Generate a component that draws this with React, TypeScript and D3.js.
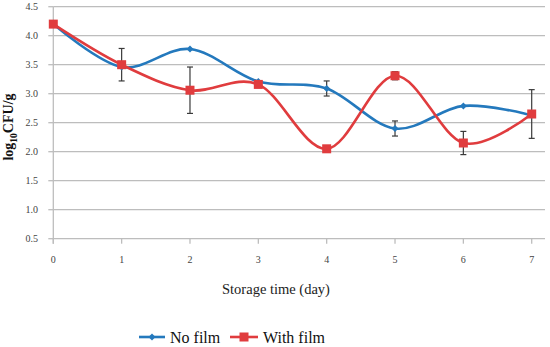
import React from "react";
import * as d3 from "d3";

const days = [0, 1, 2, 3, 4, 5, 6, 7];
const noFilm = [4.2, 3.46, 3.77, 3.21, 3.09, 2.4, 2.79, 2.63];
const noFilmErr = [0, 0, 0, 0, 0.13, 0.13, 0, 0];
const withFilm = [4.2, 3.5, 3.06, 3.16, 2.05, 3.31, 2.15, 2.65];
const withFilmErr = [0, 0.28, 0.4, 0, 0.03, 0.07, 0.2, 0.42];
const yTicks = [0.5, 1.0, 1.5, 2.0, 2.5, 3.0, 3.5, 4.0, 4.5];
const seriesNames = ["No film", "With film"];

const W = 550, H = 347;
const BLUE = "#2479bd";
const RED = "#e03c3e";
const GRID = "#bdbdbd";
const FONT = "Liberation Serif";

export default function App() {
  const x = d3.scaleLinear().domain([0, 7]).range([53.3, 531.7]);
  const y = d3.scaleLinear().domain([0.5, 4.5]).range([238.7, 6.7]);
  const line = d3
    .line<number>()
    .x((_, i) => x(days[i]))
    .y((d) => y(d))
    .curve(d3.curveCardinal.tension(0));

  const errBars = (vals: number[], errs: number[], key: string) =>
    vals.map((v, i) =>
      errs[i] > 0 ? (
        <g key={key + i} stroke="#3a3a3a" strokeWidth={1.2}>
          <line x1={x(days[i])} x2={x(days[i])} y1={y(v - errs[i])} y2={y(v + errs[i])} />
          <line x1={x(days[i]) - 3} x2={x(days[i]) + 3} y1={y(v - errs[i])} y2={y(v - errs[i])} />
          <line x1={x(days[i]) - 3} x2={x(days[i]) + 3} y1={y(v + errs[i])} y2={y(v + errs[i])} />
        </g>
      ) : null
    );

  const diamond = (cx: number, cy: number, k: string) => (
    <path key={k} d={`M${cx},${cy - 3.5}L${cx + 3.5},${cy}L${cx},${cy + 3.5}L${cx - 3.5},${cy}Z`} fill={BLUE} />
  );
  const square = (cx: number, cy: number, k: string) => (
    <rect key={k} x={cx - 4.5} y={cy - 4.5} width={9} height={9} fill={RED} />
  );

  return (
    <svg width={W} height={H} style={{ position: "absolute", left: 0, top: 0, background: "#fff" }}>
      <g style={{ fontFamily: FONT }}>
        {/* gridlines */}
        {yTicks.map((t) => (
          <line key={"g" + t} x1={x(0)} x2={545} y1={y(t)} y2={y(t)} stroke={GRID} strokeWidth={1.3} />
        ))}
        {/* y axis */}
        <line x1={x(0)} x2={x(0)} y1={y(4.5)} y2={y(0.5) + 5} stroke={GRID} strokeWidth={1.3} />
        {yTicks.map((t) => (
          <g key={"yt" + t}>
            <line x1={x(0) - 5} x2={x(0)} y1={y(t)} y2={y(t)} stroke={GRID} strokeWidth={1.3} />
            <text x={38} y={y(t)} dy="0.35em" textAnchor="end" fontSize={10} fill="#444">
              {d3.format(".1f")(t)}
            </text>
          </g>
        ))}
        {/* x ticks */}
        {days.map((d) => (
          <g key={"xt" + d}>
            <line x1={x(d)} x2={x(d)} y1={y(0.5)} y2={y(0.5) + 5} stroke={GRID} strokeWidth={1.3} />
            <text x={x(d)} y={259} dy="0.35em" textAnchor="middle" fontSize={10} fill="#444">
              {d}
            </text>
          </g>
        ))}
        {/* axis titles */}
        <text x={276} y={294} textAnchor="middle" fontSize={14.5} fill="#222">
          Storage time (day)
        </text>
        <text transform={`translate(13,127) rotate(-90)`} textAnchor="middle" fontSize={14} fontWeight="bold" fill="#111">
          log<tspan fontSize={9.5} dy={4}>10</tspan>
          <tspan dy={-4}>CFU/g</tspan>
        </text>
        {/* series lines */}
        <path d={line(noFilm) || ""} fill="none" stroke={BLUE} strokeWidth={2.6} />
        <path d={line(withFilm) || ""} fill="none" stroke={RED} strokeWidth={2.6} />
        {errBars(noFilm, noFilmErr, "be")}
        {errBars(withFilm, withFilmErr, "re")}
        {noFilm.map((v, i) => diamond(x(days[i]), y(v), "bm" + i))}
        {withFilm.map((v, i) => square(x(days[i]), y(v), "rm" + i))}
        {/* legend */}
        <line x1={139} x2={165} y1={337} y2={337} stroke={BLUE} strokeWidth={2.6} />
        {diamond(152, 337, "ld")}
        <text x={170} y={337} dy="0.35em" fontSize={16} fill="#111">
          {seriesNames[0]}
        </text>
        <line x1={230} x2={258} y1={337} y2={337} stroke={RED} strokeWidth={2.6} />
        {square(244, 337, "ls")}
        <text x={263} y={337} dy="0.35em" fontSize={16} fill="#111">
          {seriesNames[1]}
        </text>
      </g>
    </svg>
  );
}
